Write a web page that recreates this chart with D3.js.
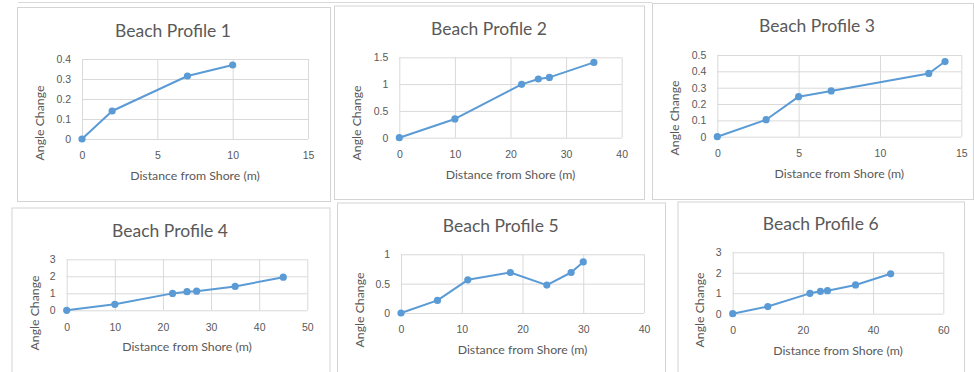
<!DOCTYPE html>
<html>
<head>
<meta charset="utf-8">
<script src="https://cdn.jsdelivr.net/npm/d3@7"></script>
<style>
  body { margin: 0; background: #fff; }
  svg { display: block; font-family: Lato, "Open Sans", sans-serif; }
</style>
</head>
<body>
<svg id="beach" width="974" height="372"></svg>
<script>
"use strict";

// values
const profileTitles = ['Beach Profile 1', 'Beach Profile 2', 'Beach Profile 3',
  'Beach Profile 4', 'Beach Profile 5', 'Beach Profile 6'];

const profile1Distance = [0, 2, 7, 10];
const profile1Angle = [0, 0.14, 0.315, 0.37];

const profile2Distance = [0, 10, 22, 25, 27, 35];
const profile2Angle = [0, 0.35, 0.995, 1.095, 1.125, 1.405];

const profile3Distance = [0, 3, 5, 7, 13, 14];
const profile3Angle = [0, 0.104, 0.245, 0.28, 0.387, 0.46];

const profile4Distance = [0, 10, 22, 25, 27, 35, 45];
const profile4Angle = [0, 0.35, 0.995, 1.095, 1.125, 1.405, 1.95];

const profile5Distance = [0, 6, 11, 18, 24, 28, 30];
const profile5Angle = [0, 0.215, 0.565, 0.69, 0.475, 0.69, 0.87];

const profile6Distance = [0, 10, 22, 25, 27, 35, 45];
const profile6Angle = [0, 0.35, 0.995, 1.095, 1.125, 1.405, 1.95];

const xTicks = [[0, 5, 10, 15], [0, 10, 20, 30, 40], [0, 5, 10, 15],
  [0, 10, 20, 30, 40, 50], [0, 10, 20, 30, 40], [0, 20, 40, 60]];
const yTicks = [[0, 0.1, 0.2, 0.3, 0.4], [0, 0.5, 1, 1.5], [0, 0.1, 0.2, 0.3, 0.4, 0.5],
  [0, 1, 2, 3], [0, 0.5, 1], [0, 1, 2, 3]];

const xAxisTitle = 'Distance from Shore (m)';
const yAxisTitle = 'Angle Change';

// where each pasted chart sits in the collage
let layout = [
  {frame: [17, 7, 330, 201], plot: [82, 59, 308, 139], titleX: 173, titleY: 36.5, yTitleX: 40, yTitleY: 123},
  {frame: [334, 5.5, 644, 199], plot: [399.3, 57.3, 621.7, 137.7], titleX: 489, titleY: 35, yTitleX: 356.7, yTitleY: 123},
  {frame: [652, 3, 973, 199], plot: [717.3, 55, 961.3, 136.7], titleX: 817, titleY: 32, yTitleX: 674.7, yTitleY: 118},
  {frame: [11.5, 207.5, 329.5, 380], plot: [66.7, 259.3, 307.3, 310.3], titleX: 170, titleY: 236.5, yTitleX: 35, yTitleY: 313},
  {frame: [337, 202.5, 665, 380], plot: [401, 254.3, 644, 313], titleX: 500.7, titleY: 231.5, yTitleX: 359.3, yTitleY: 310},
  {frame: [677.5, 201.5, 964, 380], plot: [732.7, 252.3, 943.3, 313.7], titleX: 820.7, titleY: 230, yTitleX: 699.3, yTitleY: 310}
];

let distances = [profile1Distance, profile2Distance, profile3Distance,
  profile4Distance, profile5Distance, profile6Distance];
let angles = [profile1Angle, profile2Angle, profile3Angle,
  profile4Angle, profile5Angle, profile6Angle];

let textColour = '#595959';
let gridColour = '#d9d9d9';
let lineColour = '#5b9bd5';

let svg = d3.select('svg#beach');

// leftover edge of the frames cropped above
svg.append('line')
  .attr('x1', 18).attr('x2', 652)
  .attr('y1', 2.5).attr('y2', 2.5)
  .attr('stroke', gridColour);

layout.forEach((l, i) => {
  let g = svg.append('g').attr('class', 'profile');

  g.append('rect')
    .attr('x', l.frame[0] + 0.5)
    .attr('y', l.frame[1] + 0.5)
    .attr('width', l.frame[2] - l.frame[0])
    .attr('height', l.frame[3] - l.frame[1])
    .attr('fill', '#fff')
    .attr('stroke', '#d4d4d4');

  let [left, top, right, bottom] = l.plot;
  let xTickValues = xTicks[i];
  let yTickValues = yTicks[i];

  let xScale = d3.scaleLinear()
    .domain([xTickValues[0], xTickValues[xTickValues.length - 1]])
    .range([left, right]);
  let yScale = d3.scaleLinear()
    .domain([yTickValues[0], yTickValues[yTickValues.length - 1]])
    .range([bottom, top]);

  /* gridlines + tick labels */
  let xAxis = g.append('g')
    .attr('transform', `translate(0, ${bottom})`)
    .call(d3.axisBottom(xScale)
      .tickValues(xTickValues)
      .tickFormat(d => String(d))
      .tickSize(-(bottom - top))
      .tickPadding(13));

  let yAxis = g.append('g')
    .attr('transform', `translate(${left}, 0)`)
    .call(d3.axisLeft(yScale)
      .tickValues(yTickValues)
      .tickFormat(d => String(d))
      .tickSize(-(right - left))
      .tickPadding(11));

  [xAxis, yAxis].forEach(a => {
    a.select('.domain').remove();
    a.selectAll('line').attr('stroke', gridColour);
    a.selectAll('text')
      .attr('fill', textColour)
      .style('font-size', '10.5px');
  });

  /* series */
  let points = distances[i].map((d, j) => [d, angles[i][j]]);

  g.append('path')
    .datum(points)
    .attr('fill', 'none')
    .attr('stroke', lineColour)
    .attr('stroke-width', 2)
    .attr('stroke-linejoin', 'round')
    .attr('d', d3.line()
      .x(d => xScale(d[0]))
      .y(d => yScale(d[1])));

  g.selectAll('circle.marker')
    .data(points)
    .enter()
    .append('circle')
    .attr('class', 'marker')
    .attr('cx', d => xScale(d[0]))
    .attr('cy', d => yScale(d[1]))
    .attr('r', 3.6)
    .attr('fill', lineColour);

  /* titles */
  g.append('text')
    .attr('x', l.titleX)
    .attr('y', l.titleY)
    .attr('text-anchor', 'middle')
    .attr('fill', textColour)
    .style('font-size', '17.5px')
    .text(profileTitles[i]);

  g.append('text')
    .attr('x', (left + right) / 2)
    .attr('y', bottom + 41)
    .attr('text-anchor', 'middle')
    .attr('fill', textColour)
    .style('font-size', '12.3px')
    .text(xAxisTitle);

  g.append('text')
    .attr('transform', `translate(${l.yTitleX}, ${l.yTitleY}) rotate(-90)`)
    .attr('text-anchor', 'middle')
    .attr('dy', '0.35em')
    .attr('fill', textColour)
    .style('font-size', '12.3px')
    .text(yAxisTitle);
});
</script>
</body>
</html>
